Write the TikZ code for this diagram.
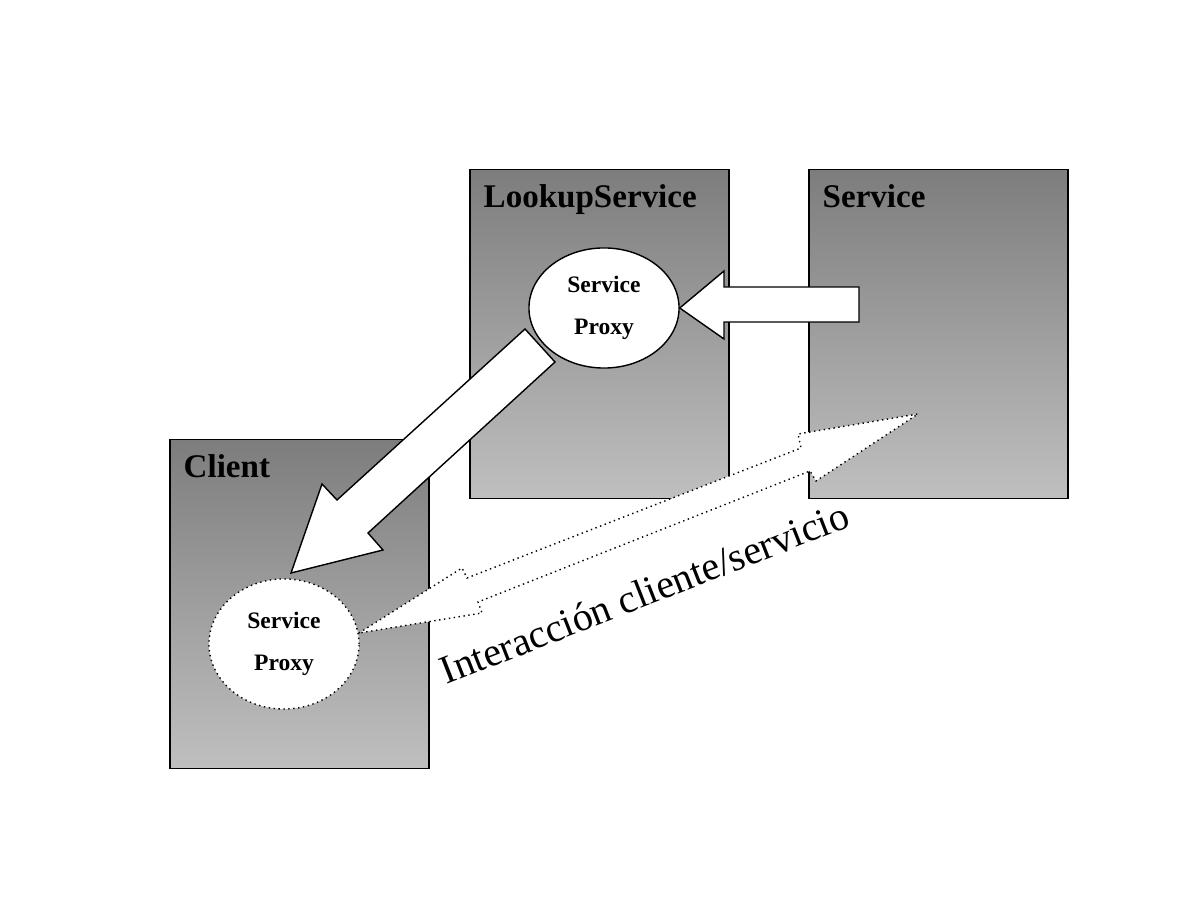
\documentclass[tikz,border=0pt]{standalone}
\usepackage{fontspec}
\setmainfont{Liberation Serif}
\usetikzlibrary{shapes.geometric, positioning, calc}

\tikzset{
  box/.style={draw=black, thin, top color=black!51, bottom color=black!25,
    minimum width=2.59cm, minimum height=3.29cm, inner sep=0},
  title/.style={anchor=base west, inner sep=0, font=\fontsize{9.4}{11}\selectfont\bfseries},
  proxy/.style={ellipse, draw=black, thin, fill=white, inner sep=0, align=center,
    minimum width=1.5cm, font=\fontsize{6.7}{12}\selectfont\bfseries},
  blockarrow/.style={draw=black, thin, fill=white, line join=miter}
}

\begin{document}
\begin{tikzpicture}[x=0.01cm, y=-0.01cm]
\useasboundingbox (0,0) rectangle (1198,898);

% Boxes
\node[box] (lookup) at (599.5,334) {};
\node[box] (service) at (938.5,334) {};
\node[box] (client) at (299.5,604) {};
\node[title] (lookuptitle) at (483,208) {LookupService};
\node[title] (servicetitle) at (822,208) {Service};
\node[title] (clienttitle) at (183,478) {Client};

% Service proxies
\node[proxy, minimum height=1.2cm] (lproxy) at (604,308) {Service\\Proxy};
\node[proxy, minimum height=1.3cm, densely dotted] (cproxy) at (284,644) {Service\\Proxy};

% Registration: service -> lookup
\draw[blockarrow] (859,287) -- (724,287) -- (724,271) -- (lproxy.east)
  -- (724,339) -- (724,322) -- (859,322) -- cycle;

% Download: lookup -> client
\draw[blockarrow] (525,329) -- (555,362) -- (368,533) -- (383,550)
  -- (291,573) -- (322,484) -- (337,500) -- cycle;

% Client/service interaction
\draw[blockarrow, densely dotted] (359,633) -- (462,568) -- (467,578) -- (801,448)
  -- (798,434) -- (918,414) -- (816,481) -- (810,471) -- (478,602) -- (482,613) -- cycle;
\node[anchor=base west, inner sep=0, rotate=21.4, font=\fontsize{11.4}{13}\selectfont]
  (interaction) at (446,685) {Interacción cliente/servicio};
\end{tikzpicture}
\end{document}
